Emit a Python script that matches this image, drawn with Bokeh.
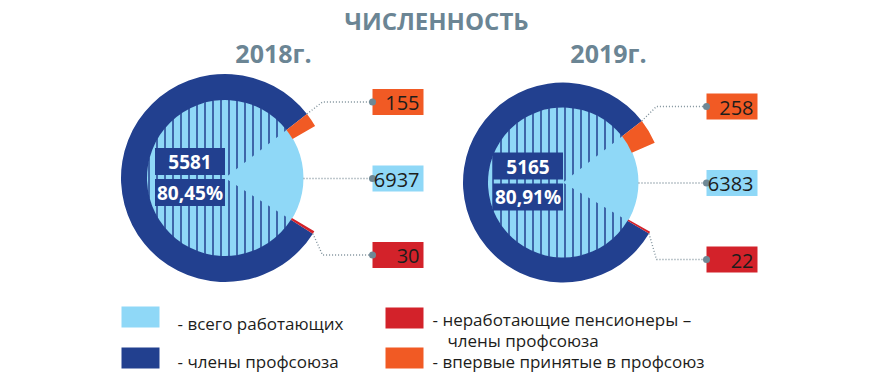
import math
from bokeh.plotting import figure
from bokeh.models import Range1d
from bokeh.embed import file_html
from bokeh.resources import INLINE
from bokeh.core.properties import value

# ---------------- data ----------------
title = "ЧИСЛЕННОСТЬ"
years = ["2018г.", "2019г."]
total_workers = [6937, 6383]
union_members = [5581, 5165]
member_share_labels = ["80,45%", "80,91%"]
retirees = [30, 22]
new_members = [155, 258]
legend_labels = ["- всего работающих", "- члены профсоюза",
                 "- неработающие пенсионеры –", "члены профсоюза",
                 "- впервые принятые в профсоюз"]

# ---------------- style ----------------
LIGHT = "#8fd8f7"
DARK = "#22408f"
RED = "#d3222a"
ORANGE = "#f15a24"
SLATE = "#6b8594"
LEADER = "#7e909a"
INK = "#1d1d1b"
FONT = "Open Sans"

W, H = 870, 373
TOP = 373  # window y -> data y: Y = TOP - y


def Y(y):
    return TOP - y


p = figure(width=W, height=H, x_range=Range1d(0, W), y_range=Range1d(0, H),
           output_backend="svg", toolbar_location=None, x_axis_type=None, y_axis_type=None,
           min_border=0, outline_line_color=None)
p.grid.visible = False
p.background_fill_color = "white"
p.border_fill_color = "white"

# layout of the two donuts (window coordinates)
layout = [
    dict(cx=224.5, cy=177.5, r_out=104, r_in=78.5, year_x=273, box_x=372),
    dict(cx=562.5, cy=182.0, r_out=100, r_in=75.5, year_x=608, box_x=706),
]
START = math.radians(38)
BOX_W, BOX_H = 51, 26

texts = dict(x=[], y=[], t=[], size=[], color=[], style=[], align=[])


def add_text(x, y, t, size, color, style="normal", align="center"):
    texts["x"].append(x)
    texts["y"].append(Y(y))
    texts["t"].append(t)
    texts["size"].append(f"{size}px")
    texts["color"].append(color)
    texts["style"].append(style)
    texts["align"].append(align)


add_text(436, 20, title, 24, SLATE, "bold")

for i, L in enumerate(layout):
    cx, cy, ro, ri = L["cx"], L["cy"], L["r_out"], L["r_in"]
    tot = total_workers[i]
    share = union_members[i] / tot
    ring_end = START + share * 2 * math.pi
    new_span = new_members[i] / tot * 2 * math.pi
    ret_span = retirees[i] / tot * 2 * math.pi

    # inner circle: all workers
    p.wedge(x=[cx], y=[Y(cy)], radius=ri, start_angle=0, end_angle=2 * math.pi,
            fill_color=LIGHT, line_color=None)
    # hatched share: union members among workers
    p.wedge(x=[cx], y=[Y(cy)], radius=ri, start_angle=START, end_angle=ring_end,
            fill_alpha=0, line_color=None, hatch_pattern="vertical_line",
            hatch_color=DARK, hatch_scale=8, hatch_weight=1.5)
    # ring: union members
    p.annular_wedge(x=[cx], y=[Y(cy)], inner_radius=ri - 0.5, outer_radius=ro,
                    start_angle=START, end_angle=ring_end, fill_color=DARK, line_color=None)
    # new members (orange)
    p.annular_wedge(x=[cx], y=[Y(cy)], inner_radius=ri - 0.5, outer_radius=ro,
                    start_angle=START - new_span, end_angle=START, fill_color=ORANGE, line_color=None)
    # retirees (red)
    p.annular_wedge(x=[cx], y=[Y(cy)], inner_radius=ri - 0.5, outer_radius=ro,
                    start_angle=ring_end, end_angle=ring_end + ret_span, fill_color=RED, line_color=None)

    # year
    add_text(L["year_x"], 52, years[i], 25, SLATE, "bold")

    # value boxes in the centre
    bx0 = cx - 70
    p.quad(left=[bx0], right=[cx], top=[Y(cy - 30)], bottom=[Y(cy - 3)],
           fill_color=DARK, line_color=None)
    p.quad(left=[bx0], right=[cx], top=[Y(cy + 1)], bottom=[Y(cy + 28)],
           fill_color=DARK, line_color=None)
    add_text(cx - 35, cy - 16, str(union_members[i]), 19, "white", "bold")
    add_text(cx - 35, cy + 14.5, member_share_labels[i], 19, "white", "bold")

    # call-out boxes
    bx = L["box_x"]
    rows = [(cy - 76, ORANGE, new_members[i]),
            (cy + 0.5, LIGHT, total_workers[i]),
            (cy + 77, RED, retirees[i])]
    for (yc, col, val) in rows:
        p.quad(left=[bx], right=[bx + BOX_W], top=[Y(yc - BOX_H / 2)], bottom=[Y(yc + BOX_H / 2)],
               fill_color=col, line_color=None)
        add_text(bx + BOX_W - 4, yc + 1, str(val), 20, INK, "normal", "right")

    # leader lines
    knee = bx - 50
    a_o = START
    ox, oy = cx + ro * math.cos(a_o), cy - ro * math.sin(a_o)
    a_r = ring_end
    rx, ry = cx + ro * math.cos(a_r), cy - ro * math.sin(a_r)
    leaders = [
        ([ox, knee, bx], [oy, rows[0][0], rows[0][0]]),
        ([cx + ri, bx], [rows[1][0], rows[1][0]]),
        ([rx, knee, bx], [ry, rows[2][0], rows[2][0]]),
    ]
    for xs, ys in leaders:
        p.line(x=xs, y=[Y(v) for v in ys], line_color=LEADER, line_width=1.4, line_dash="1 2")
    p.scatter(x=[bx] * 3, y=[Y(r[0]) for r in rows], size=7, marker="circle",
              fill_color="#6f8895", line_color=None)

# legend
leg_sq = [(121, 306, LIGHT), (121, 347, DARK), (385, 307, RED), (385, 347, ORANGE)]
for (lx, ly, col) in leg_sq:
    p.quad(left=[lx], right=[lx + 38], top=[Y(ly)], bottom=[Y(ly + 21)], fill_color=col, line_color=None)
add_text(177, 323, legend_labels[0], 17, INK, "normal", "left")
add_text(177, 361, legend_labels[1], 17, INK, "normal", "left")
add_text(432, 319, legend_labels[2], 17, INK, "normal", "left")
add_text(447, 340, legend_labels[3], 17, INK, "normal", "left")
add_text(432, 361, legend_labels[4], 17, INK, "normal", "left")

for k in range(len(texts["x"])):
    p.text(x=[texts["x"][k]], y=[texts["y"][k]], text=[texts["t"][k]],
           text_font=value(FONT), text_font_size=value(texts["size"][k]),
           text_color=texts["color"][k], text_font_style=texts["style"][k],
           text_align=texts["align"][k], text_baseline="middle")

open("out.html", "w").write(file_html(p, INLINE))
